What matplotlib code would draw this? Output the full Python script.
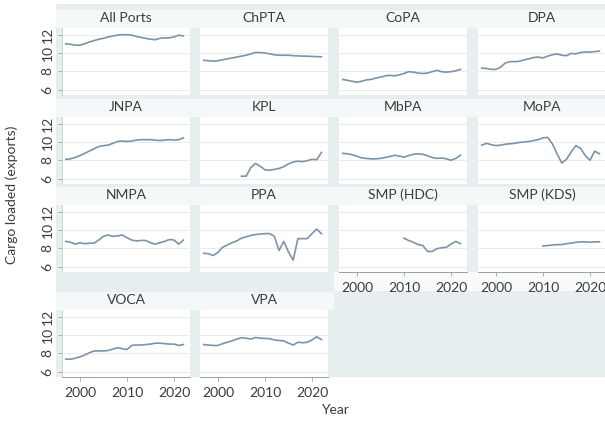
import matplotlib
matplotlib.use("Agg")
import matplotlib.pyplot as plt
from matplotlib.patches import Rectangle

plt.rcParams['font.family'] = ['Lato', 'DejaVu Sans']

years = list(range(1997, 2023))
years_kpl = list(range(2005, 2023))
years_smp = list(range(2010, 2023))

all_ports = [11.0, 10.95, 10.85, 10.85, 11.0, 11.2, 11.35, 11.5, 11.6, 11.75, 11.85, 11.95, 12.0,
             12.0, 11.95, 11.8, 11.7, 11.6, 11.5, 11.45, 11.6, 11.65, 11.65, 11.75, 11.95, 11.85]
chpta = [9.2, 9.15, 9.1, 9.15, 9.25, 9.35, 9.45, 9.55, 9.65, 9.75, 9.9, 10.05, 10.05,
         10.0, 9.9, 9.8, 9.75, 9.75, 9.75, 9.7, 9.68, 9.65, 9.65, 9.62, 9.6, 9.58]
copa = [7.1, 7.0, 6.9, 6.8, 6.9, 7.05, 7.1, 7.25, 7.35, 7.5, 7.55, 7.5, 7.6,
        7.75, 7.95, 7.9, 7.8, 7.75, 7.8, 7.95, 8.1, 7.95, 7.9, 7.95, 8.05, 8.2]
dpa = [8.35, 8.3, 8.2, 8.2, 8.45, 8.9, 9.05, 9.05, 9.1, 9.25, 9.35, 9.5, 9.55,
       9.45, 9.65, 9.8, 9.9, 9.75, 9.7, 9.95, 9.9, 10.05, 10.1, 10.1, 10.15, 10.2]
jnpa = [8.1, 8.15, 8.3, 8.5, 8.75, 9.0, 9.25, 9.5, 9.6, 9.65, 9.85, 10.05, 10.1,
        10.05, 10.1, 10.2, 10.25, 10.25, 10.25, 10.2, 10.15, 10.2, 10.25, 10.2, 10.25, 10.45]
kpl = [6.25, 6.25, 7.2, 7.65, 7.35, 6.95, 6.9, 7.0, 7.1, 7.3, 7.6, 7.8, 7.9,
       7.85, 7.95, 8.1, 8.05, 8.85]
mbpa = [8.75, 8.7, 8.6, 8.45, 8.25, 8.2, 8.15, 8.15, 8.2, 8.3, 8.4, 8.55, 8.45,
        8.35, 8.5, 8.65, 8.7, 8.65, 8.5, 8.3, 8.2, 8.25, 8.15, 8.0, 8.2, 8.55]
mopa = [9.65, 9.85, 9.7, 9.6, 9.65, 9.75, 9.8, 9.85, 9.95, 10.0, 10.05, 10.15, 10.25,
        10.45, 10.5, 9.8, 8.7, 7.7, 8.1, 8.9, 9.6, 9.3, 8.5, 8.0, 9.0, 8.7]
nmpa = [8.75, 8.65, 8.45, 8.6, 8.5, 8.55, 8.55, 8.9, 9.3, 9.45, 9.3, 9.35, 9.45,
        9.15, 8.9, 8.8, 8.85, 8.85, 8.6, 8.45, 8.6, 8.75, 8.95, 8.9, 8.45, 8.9]
ppa = [7.45, 7.4, 7.2, 7.55, 8.1, 8.35, 8.6, 8.8, 9.1, 9.25, 9.4, 9.5, 9.55,
       9.6, 9.6, 9.3, 7.75, 8.75, 7.6, 6.7, 9.05, 9.05, 9.05, 9.6, 10.1, 9.6]
smp_hdc = [9.1, 8.85, 8.65, 8.4, 8.3, 7.65, 7.65, 7.95, 8.05, 8.1, 8.45, 8.75, 8.5]
smp_kds = [8.25, 8.3, 8.35, 8.4, 8.4, 8.5, 8.55, 8.65, 8.7, 8.7, 8.65, 8.7, 8.7]
voca = [7.35, 7.35, 7.45, 7.6, 7.8, 8.05, 8.25, 8.25, 8.25, 8.3, 8.45, 8.6, 8.5,
        8.4, 8.85, 8.9, 8.9, 8.95, 9.0, 9.1, 9.1, 9.05, 9.0, 9.0, 8.85, 8.95]
vpa = [8.95, 8.9, 8.85, 8.85, 9.05, 9.2, 9.35, 9.55, 9.7, 9.65, 9.55, 9.72, 9.65,
       9.62, 9.6, 9.45, 9.4, 9.35, 9.1, 8.9, 9.2, 9.15, 9.2, 9.45, 9.8, 9.5]

panels = [
    ("All Ports", years, all_ports), ("ChPTA", years, chpta), ("CoPA", years, copa), ("DPA", years, dpa),
    ("JNPA", years, jnpa), ("KPL", years_kpl, kpl), ("MbPA", years, mbpa), ("MoPA", years, mopa),
    ("NMPA", years, nmpa), ("PPA", years, ppa), ("SMP (HDC)", years_smp, smp_hdc), ("SMP (KDS)", years_smp, smp_kds),
    ("VOCA", years, voca), ("VPA", years, vpa),
]
y_ticks = [6, 8, 10, 12]
x_ticks = [2000, 2010, 2020]

W, H = 605, 424
col_left = [62, 200, 339, 478]
row_top = [28, 117, 205, 310]
pw, ph = 128, 67
strip_h = 18

blue = '#e6eef0'
strip_c = '#f4f8f8'
line_c = '#7d93a8'
txt_c = '#3c3c3c'


def rect(fig, x0, y0, x1, y1, color):
    # pixel box (top-left origin) -> figure patch
    fig.patches.append(Rectangle((x0 / W, 1 - y1 / H), (x1 - x0) / W, (y1 - y0) / H,
                                 transform=fig.transFigure, facecolor=color, edgecolor='none', zorder=-5))


fig = plt.figure(figsize=(W / 100, H / 100), dpi=100, facecolor='white')

rect(fig, 56, 4, 607, 377, blue)
for r, top in enumerate(row_top):
    right = 334 if r == 3 else 607
    rect(fig, 56, top - strip_h, right, top, strip_c)
rect(fig, 334, 272, 607, 291, '#f9fbfb')

for i, (name, xs, ys) in enumerate(panels):
    r, c = divmod(i, 4)
    left, top = col_left[c], row_top[r]
    ax = fig.add_axes([left / W, 1 - (top + ph) / H, pw / W, ph / H])
    ax.set_facecolor('white')
    ax.plot(xs, ys, color=line_c, lw=1.2, solid_joinstyle='round')
    ax.set_xlim(1996.2, 2023.4)
    ax.set_ylim(5.4, 12.73)
    ax.set_yticks(y_ticks)
    ax.set_xticks(x_ticks)
    ax.grid(axis='y', color='#ebebeb', lw=0.7)
    ax.set_axisbelow(True)
    for s in ax.spines.values():
        s.set_visible(False)

    bottom = (r == 3) or (r == 2 and c >= 2)
    if bottom:
        ax.spines['bottom'].set_visible(True)
        ax.spines['bottom'].set_color('#9aa0a4')
        ax.spines['bottom'].set_linewidth(0.7)
        ax.tick_params(axis='x', length=3, width=0.6, color='#9aa0a4', labelsize=10,
                       labelcolor=txt_c, pad=4)
    else:
        ax.tick_params(axis='x', bottom=False, labelbottom=False)

    if c == 0:
        ax.spines['left'].set_visible(True)
        ax.spines['left'].set_color('#c8cccf')
        ax.spines['left'].set_linewidth(0.6)
        ax.tick_params(axis='y', length=3, width=0.6, color='#9aa0a4', labelsize=10,
                       labelcolor=txt_c, pad=3)
        for lab in ax.get_yticklabels():
            lab.set_rotation(90)
            lab.set_va('center')
    else:
        ax.tick_params(axis='y', left=False, labelleft=False)

    fig.text((left + pw / 2) / W, 1 - (top - strip_h / 2 - 1) / H, name,
             ha='center', va='center', fontsize=10, color=txt_c)

fig.text(12 / W, 1 - 195 / H, 'Cargo loaded (exports)', rotation=90,
         ha='center', va='center', fontsize=10, color=txt_c)
fig.text(335 / W, 1 - 410 / H, 'Year', ha='center', va='center', fontsize=10, color=txt_c)

fig.savefig('out.png', dpi=100, facecolor='white')
